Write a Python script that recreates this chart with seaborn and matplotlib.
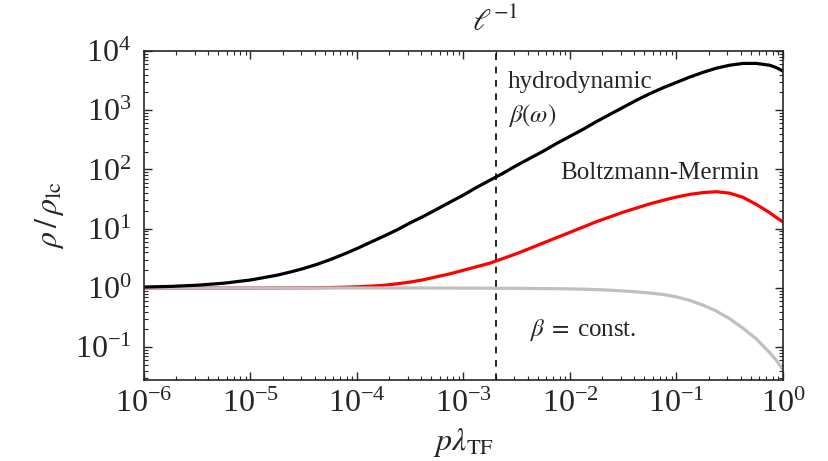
import numpy as np
import pandas as pd
import matplotlib
matplotlib.use('Agg')
import matplotlib.pyplot as plt
import matplotlib.ticker as mticker
import seaborn as sns

# Werte (log10 von x und y)
log_p = [-6.00, -5.75, -5.50, -5.25, -5.00, -4.75, -4.625, -4.50, -4.375, -4.25,
         -4.125, -4.00, -3.875, -3.75, -3.625, -3.50, -3.375, -3.25, -3.125, -3.00,
         -2.875, -2.75, -2.625, -2.50, -2.375, -2.25, -2.125, -2.00, -1.875, -1.75,
         -1.625, -1.50, -1.375, -1.25, -1.125, -1.00, -0.875, -0.75, -0.625, -0.50,
         -0.375, -0.25, -0.125, -0.0625, 0.00]

log_hydro = [0.016, 0.027, 0.047, 0.081, 0.135, 0.216, 0.27, 0.33, 0.40, 0.48,
             0.57, 0.666, 0.77, 0.873, 0.98, 1.10, 1.21, 1.33, 1.45, 1.57,
             1.70, 1.82, 1.94, 2.07, 2.19, 2.31, 2.44, 2.56, 2.68, 2.81,
             2.93, 3.05, 3.17, 3.28, 3.38, 3.47, 3.56, 3.64, 3.71, 3.76,
             3.79, 3.79, 3.76, 3.72, 3.66]

log_bm = [0.0, 0.0, 0.0, 0.0, 0.0, 0.001, 0.002, 0.003, 0.005, 0.008,
          0.013, 0.02, 0.03, 0.045, 0.07, 0.10, 0.14, 0.19, 0.24, 0.30,
          0.36, 0.42, 0.50, 0.58, 0.67, 0.76, 0.85, 0.94, 1.03, 1.12,
          1.20, 1.28, 1.35, 1.42, 1.48, 1.535, 1.58, 1.61, 1.625, 1.60,
          1.53, 1.41, 1.27, 1.19, 1.115]

log_const = [0.0, 0.0, 0.0, 0.0, 0.0, 0.0, 0.0, 0.0, 0.0, 0.0,
             0.0, 0.0, 0.0, 0.0, 0.0, 0.0, 0.0, -0.001, -0.001, -0.002,
             -0.003, -0.004, -0.005, -0.006, -0.008, -0.010, -0.012, -0.015, -0.020, -0.027,
             -0.037, -0.05, -0.065, -0.085, -0.11, -0.15, -0.21, -0.29, -0.39, -0.52,
             -0.68, -0.86, -1.09, -1.22, -1.38]

ell_inv = 2e-3          # Position der gestrichelten Linie
y_min, y_max = 0.028, 1e4

sns.set_style('ticks')
plt.rcParams['font.family'] = ['Liberation Serif', 'DejaVu Serif']
plt.rcParams['mathtext.fontset'] = 'stix'
plt.rcParams['xtick.direction'] = 'in'
plt.rcParams['ytick.direction'] = 'in'
plt.rcParams['xtick.top'] = True
plt.rcParams['ytick.right'] = True

p = np.power(10.0, log_p)
df = pd.DataFrame({
    'p': p,
    'hydro': np.power(10.0, log_hydro),
    'bm': np.power(10.0, log_bm),
    'const': np.power(10.0, log_const),
})

fig, ax = plt.subplots(figsize=(8.29, 4.61), dpi=100)
fig.subplots_adjust(left=0.1737, right=0.9445, top=0.8894, bottom=0.1757)

# Reihenfolge: rot unten, grau darueber, schwarz oben
sns.lineplot(data=df, x='p', y='bm', color='#ff0000', lw=2.3, ax=ax)
sns.lineplot(data=df, x='p', y='const', color='#c0c0c0', lw=2.3, ax=ax)
sns.lineplot(data=df, x='p', y='hydro', color='black', lw=2.3, ax=ax)

ax.set_xscale('log')
ax.set_yscale('log')
ax.set_xlim(1e-6, 1)
ax.set_ylim(y_min, y_max)

ax.axvline(ell_inv, color='black', lw=1.2, ls=(0, (4, 4)))

ax.xaxis.set_major_locator(mticker.LogLocator(base=10, numticks=10))
ax.yaxis.set_major_locator(mticker.LogLocator(base=10, numticks=10))
ax.xaxis.set_minor_locator(mticker.LogLocator(base=10, subs=np.arange(2, 10), numticks=20))
ax.yaxis.set_minor_locator(mticker.LogLocator(base=10, subs=np.arange(2, 10), numticks=20))
ax.xaxis.set_minor_formatter(mticker.NullFormatter())
ax.yaxis.set_minor_formatter(mticker.NullFormatter())

ax.tick_params(which='major', length=6, width=1.0, labelsize=23)
ax.tick_params(which='minor', length=3, width=0.8)
ax.tick_params(axis='x', which='major', pad=7)
ax.tick_params(axis='y', which='major', pad=9)
for s in ax.spines.values():
    s.set_linewidth(1.2)

ax.set_xlabel(r'$p\lambda_{\mathrm{TF}}$', fontsize=23, labelpad=5)
ax.set_ylabel(r'$\rho\,/\,\rho_{\mathrm{lc}}$', fontsize=23, labelpad=6)

ax.text(ell_inv, 1.085, r'$\ell^{-1}$', transform=ax.get_xaxis_transform(),
        ha='center', va='center', fontsize=22)

ax.text(2.6e-3, 3000, 'hydrodynamic', fontsize=18, ha='left', va='center')
ax.text(2.6e-3, 830, r'$\beta(\omega)$', fontsize=18, ha='left', va='center')
ax.text(8.05e-3, 87, 'Boltzmann-Mermin', fontsize=18, ha='left', va='center')
ax.text(4.1e-3, 0.195, r'$\beta\;=\;$const.', fontsize=18, ha='left', va='center')

plt.savefig('out.png', dpi=100)
plt.close()
